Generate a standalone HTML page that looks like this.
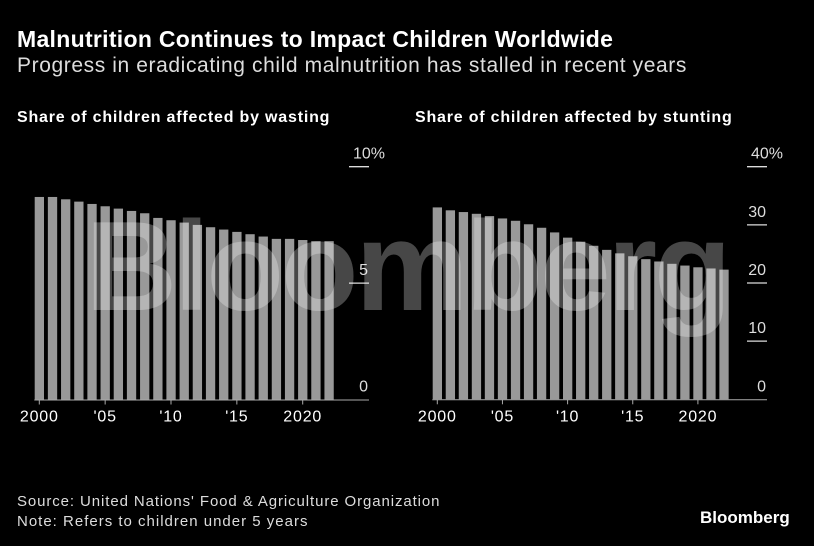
<!DOCTYPE html>
<html><head><meta charset="utf-8"><style>
body{margin:0;background:#000;width:814px;height:546px;overflow:hidden;font-family:"Liberation Sans",sans-serif;color:#fff;position:relative}
.t{position:absolute;white-space:nowrap}
</style></head><body>
<div class="t" style="left:17px;top:26px;font-size:23px;font-weight:bold;letter-spacing:0.3px">Malnutrition Continues to Impact Children Worldwide</div>
<div class="t" style="left:17px;top:54px;font-size:21px;color:#ddd;letter-spacing:0.6px">Progress in eradicating child malnutrition has stalled in recent years</div>
<svg id="svg" width="814" height="546" style="position:absolute;left:0;top:0"></svg>
<div class="t" style="left:17px;top:493px;font-size:15px;color:#ddd;letter-spacing:0.9px">Source: United Nations' Food &amp; Agriculture Organization</div>
<div class="t" style="left:17px;top:513px;font-size:15px;color:#ddd;letter-spacing:1px">Note: Refers to children under 5 years</div>
<div class="t" style="left:700px;top:508px;font-size:17px;font-weight:bold">Bloomberg</div>
<script>
const years=[2000,2001,2002,2003,2004,2005,2006,2007,2008,2009,2010,2011,2012,2013,2014,2015,2016,2017,2018,2019,2020,2021,2022];
const wasting=[8.7,8.7,8.6,8.5,8.4,8.3,8.2,8.1,8.0,7.8,7.7,7.6,7.5,7.4,7.3,7.2,7.1,7.0,6.9,6.9,6.85,6.8,6.8];
const stunting=[33.0,32.5,32.2,31.9,31.5,31.1,30.7,30.1,29.5,28.7,27.8,27.1,26.4,25.7,25.1,24.6,24.1,23.7,23.3,23.0,22.7,22.5,22.3];
const wastTicks=[0,5,10];
const stuntTicks=[0,10,20,30,40];
const xLabels=[[2000,"2000"],[2005,"'05"],[2010,"'10"],[2015,"'15"],[2020,"2020"]];
const NS="http://www.w3.org/2000/svg";
const svg=document.getElementById('svg');
function el(t,a,p){const e=document.createElementNS(NS,t);for(const k in a)e.setAttribute(k,a[k]);(p||svg).appendChild(e);return e;}
function chart(o){
  const g=el('g',{});
  
  
  const x=yr=>o.x0+(yr-2000)*o.step;
  const y=v=>o.base-(v/o.max)*(o.base-o.top);
  const tt=el('text',{x:o.titleX,y:122,fill:'#fff','font-size':16,'font-weight':'bold','letter-spacing':0.8},g);tt.textContent=o.title;
  
  
  o.vals.forEach((v,i)=>{
    const r=el('rect',{x:x(years[i])-4.6,y:y(v),width:9.3,height:o.base-y(v),fill:'#999'},g);
    
    
  });
  el('line',{x1:o.x0-5,x2:o.axEnd,y1:o.base+0.5,y2:o.base+0.5,stroke:'#aaa','stroke-width':1},g);
  xLabels.forEach(([yr,l])=>{
    el('line',{x1:x(yr),x2:x(yr),y1:o.base,y2:o.base+5,stroke:'#aaa'},g);
    const t=el('text',{x:x(yr),y:o.base+22,fill:'#fff','font-size':16,'text-anchor':'middle','letter-spacing':0.8},g);t.textContent=l;
    
    
  });
  o.ticks.forEach((v,i)=>{
    if(v>0) el('line',{x1:o.axEnd-20,x2:o.axEnd,y1:y(v),y2:y(v),stroke:'#ddd','stroke-width':1.3},g);
    const last=i==o.ticks.length-1;
    const t=el('text',{x:last?o.axEnd+16:o.axEnd-1,y:y(v)-8,fill:'#ddd','font-size':16,'text-anchor':'end'},g);
    t.textContent=v+(last?'%':'');
    
    
  });
}
chart({name:'wasting-chart',title:'Share of children affected by wasting',titleX:17,vals:wasting,ticks:wastTicks,max:10,x0:39.3,step:13.17,base:399.5,top:166.7,axEnd:369});
chart({name:'stunting-chart',title:'Share of children affected by stunting',titleX:415,vals:stunting,ticks:stuntTicks,max:40,x0:437.3,step:13.03,base:399.3,top:166.7,axEnd:767});
const wm=el('text',{x:407,y:310,fill:'#fff','fill-opacity':0.28,'font-size':127,'font-weight':'bold','text-anchor':'middle','letter-spacing':-3});
wm.textContent='Bloomberg';


</script>
</body></html>
